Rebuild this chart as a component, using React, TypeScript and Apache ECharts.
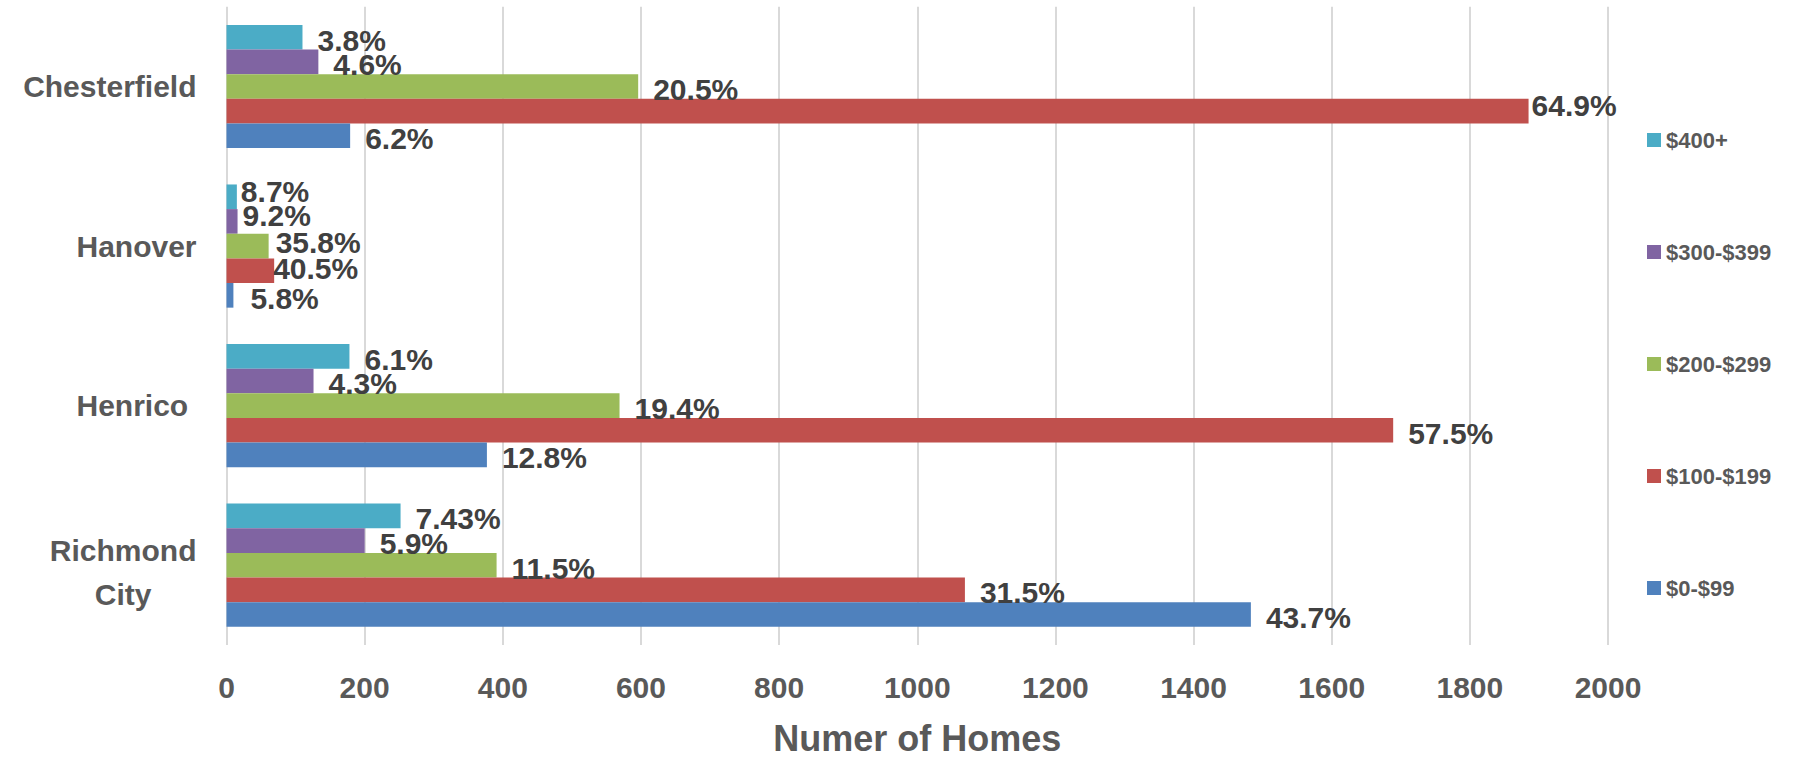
import React, { useEffect, useRef } from "react";
import * as echarts from "echarts";

// Categories (bottom to top, as in the source chart)
const categories = ["Richmond City", "Henrico ", "Hanover", "Chesterfield"];

// Series names (top bar of each group first)
const seriesNames = ["$400+", "$300-$399", "$200-$299", "$100-$199", "$0-$99"];

// Number of homes per category, one array per price band
const homes400plus = [252, 178, 15, 110];
const homes300to399 = [200, 126, 16, 133];
const homes200to299 = [391, 569, 61, 596];
const homes100to199 = [1069, 1689, 69, 1885];
const homes0to99 = [1483, 377, 10, 179];

// Data label texts (share of homes within each county)
const pct400plus = ["7.43%", "6.1%", "8.7%", "3.8%"];
const pct300to399 = ["5.9%", "4.3%", "9.2%", "4.6%"];
const pct200to299 = ["11.5%", "19.4%", "35.8%", "20.5%"];
const pct100to199 = ["31.5%", "57.5%", "40.5%", "64.9%"];
const pct0to99 = ["43.7%", "12.8%", "5.8%", "6.2%"];

// x-axis tick values
const xTicks = [0, 200, 400, 600, 800, 1000, 1200, 1400, 1600, 1800, 2000];

const colors = ["#4BACC6", "#8064A2", "#9BBB59", "#C0504D", "#4F81BD"];

export default function App() {
  const ref = useRef<HTMLDivElement>(null);

  useEffect(() => {
    document.body.style.margin = "0";
    if (!ref.current) return;
    const chart = echarts.init(ref.current, undefined, { renderer: "svg" });

    const values = [homes400plus, homes300to399, homes200to299, homes100to199, homes0to99];
    const labels = [pct400plus, pct300to399, pct200to299, pct100to199, pct0to99];

    // manual label nudges (like hand-placed Excel labels): key "series|categoryIndex"
    const nudges: Record<string, [number, number]> = {
      "3|3": [-12, -6],
      "0|2": [-11, -5],
      "1|2": [-10, -6],
      "2|2": [-8, -4],
      "3|2": [-16, -2],
      "4|2": [2, 3],
    };

    const font = "'Liberation Sans', Arial, sans-serif";

    const series = seriesNames.map((name, si) => ({
      name,
      type: "bar",
      barGap: "0%",
      barCategoryGap: "22.8%",
      itemStyle: { color: colors[si] },
      data: values[si].map((v, ci) => {
        const n = nudges[`${si}|${ci}`];
        const item: any = { value: v };
        if (n) item.label = { offset: n };
        return item;
      }),
      label: {
        show: true,
        position: "right",
        distance: 15,
        offset: [0, 3],
        fontFamily: font,
        fontSize: 30,
        fontWeight: "bold",
        color: "#404040",
        formatter: (p: any) => labels[si][p.dataIndex],
      },
    }));

    const richBase = { align: "center", fontFamily: font, fontSize: 30, fontWeight: "bold", color: "#595959", lineHeight: 44 };

    chart.setOption({
      animation: false,
      textStyle: { fontFamily: font },
      grid: { left: 226.5, right: 191, top: 6.7, bottom: 111.7, containLabel: false },
      legend: {
        orient: "vertical",
        left: 1642,
        top: 124,
        itemWidth: 14,
        itemHeight: 14,
        itemGap: 90,
        icon: "rect",
        data: seriesNames,
        textStyle: { fontFamily: font, fontSize: 22, fontWeight: "bold", color: "#595959" },
      },
      xAxis: {
        type: "value",
        min: xTicks[0],
        max: xTicks[xTicks.length - 1],
        interval: xTicks[1] - xTicks[0],
        name: "Numer of Homes",
        nameLocation: "middle",
        nameGap: 75,
        nameTextStyle: { fontFamily: font, fontSize: 36, fontWeight: "bold", color: "#595959" },
        axisLine: { show: false },
        axisTick: { show: false },
        axisLabel: {
          fontFamily: font,
          fontSize: 30,
          fontWeight: "bold",
          color: "#595959",
          margin: 27,
          formatter: (v: number) => String(v),
        },
        splitLine: { show: true, lineStyle: { color: "#D9D9D9", width: 2 } },
      },
      yAxis: {
        type: "category",
        data: categories,
        axisLine: { show: false },
        axisTick: { show: false },
        axisLabel: {
          fontFamily: font,
          fontSize: 30,
          fontWeight: "bold",
          color: "#595959",
          margin: 30,
          lineHeight: 44,
          formatter: (v: string) => {
            const words = v.split(/(?<=\S) (?=\S)/);
            if (words.length === 1) return `{c|${v}}`;
            return ["{s| }", ...words.map((w) => `{c|${w}}`)].join("\n");
          },
          rich: {
            c: richBase,
            s: { fontSize: 1, lineHeight: 14 },
          },
        },
      },
      series,
    });

    return () => chart.dispose();
  }, []);

  return <div ref={ref} style={{ position: "absolute", left: 0, top: 0, width: 1799, height: 761 }} />;
}
